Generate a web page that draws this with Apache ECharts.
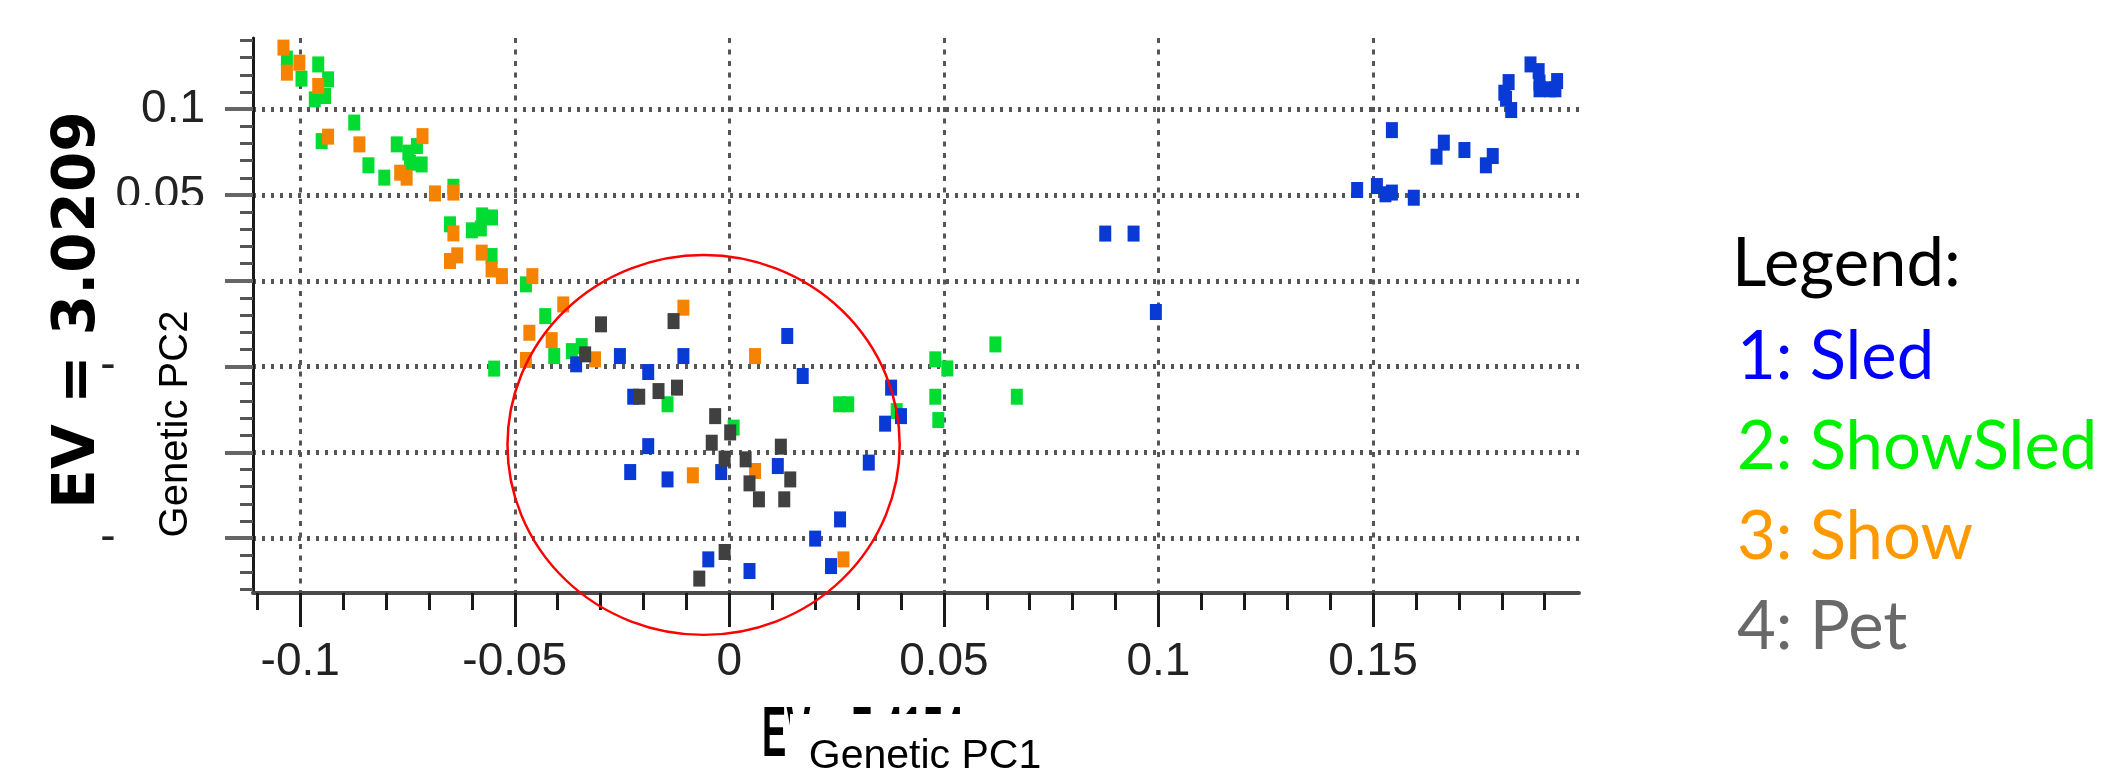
<!DOCTYPE html>
<html>
<head>
<meta charset="utf-8">
<script src="https://cdn.jsdelivr.net/npm/echarts@6.0.0/dist/echarts.min.js"></script>
<style>
  html, body { margin: 0; padding: 0; background: #fff; }
  #main { width: 2102px; height: 776px; }
</style>
</head>
<body>
<div id="main"></div>
<script>
// points, [PC1, PC2]
var sled = [
  [-0.0357,-0.0487],[-0.0255,-0.0439],[-0.0107,-0.0439],[-0.0189,-0.0532],[-0.0224,-0.0676],
  [0.0135,-0.0322],[0.0171,-0.0555],[0.0377,-0.0623],[0.0363,-0.0833],[0.0400,-0.0789],
  [-0.0189,-0.0964],[-0.0231,-0.1115],[-0.0144,-0.1158],[-0.0019,-0.1115],[0.0113,-0.1080],
  [0.0325,-0.1060],[0.0258,-0.1391],[0.0200,-0.1503],[-0.0049,-0.1624],[0.0047,-0.1692],
  [0.0237,-0.1663],[0.0876,0.0275],[0.0942,0.0275],[0.0994,-0.0182],
  [0.1463,0.0529],[0.1509,0.0552],[0.1529,0.0504],[0.1544,0.0514],[0.1595,0.0484],
  [0.1544,0.0878],[0.1665,0.0805],[0.1648,0.0723],[0.1713,0.0762],[0.1779,0.0727],[0.1763,0.0673],
  [0.1816,0.1158],[0.1806,0.1096],[0.1810,0.1061],[0.1822,0.0995],
  [0.1867,0.1261],[0.1886,0.1222],[0.1888,0.1155],[0.1888,0.1116],[0.1913,0.1116],[0.1929,0.1164],[0.1925,0.1116]
];
var showSled = [
  [-0.1031,0.1295],[-0.0997,0.1178],[-0.0958,0.1261],[-0.0935,0.1174],[-0.0942,0.1077],[-0.0966,0.1057],
  [-0.0874,0.0922],[-0.0950,0.0814],[-0.0841,0.0673],[-0.0804,0.0601],[-0.0775,0.0795],[-0.0748,0.0747],
  [-0.0728,0.0785],[-0.0717,0.0678],[-0.0744,0.0688],[-0.0643,0.0548],
  [-0.0651,0.0329],[-0.0576,0.0381],[-0.0553,0.0369],[-0.0600,0.0294],[-0.0579,0.0305],
  [-0.0554,0.0144],[-0.0474,-0.0021],[-0.0429,-0.0206],[-0.0408,-0.0439],[-0.0548,-0.0512],
  [-0.0344,-0.0381],[-0.0367,-0.0410],[-0.0144,-0.0720],[0.0010,-0.0856],[0.0256,-0.0720],[0.0277,-0.0720],
  [0.0390,-0.0760],[0.0620,-0.0371],[0.0480,-0.0458],[0.0508,-0.0511],[0.0480,-0.0676],[0.0487,-0.0812],[0.0670,-0.0676]
];
var show = [
  [-0.1039,0.1359],[-0.1002,0.1271],[-0.1031,0.1213],[-0.0958,0.1135],[-0.0935,0.0840],[-0.0862,0.0795],
  [-0.0715,0.0843],[-0.0767,0.0630],[-0.0752,0.0601],[-0.0686,0.0509],[-0.0643,0.0514],
  [-0.0643,0.0276],[-0.0651,0.0115],[-0.0634,0.0148],[-0.0577,0.0164],[-0.0554,0.0066],[-0.0530,0.0027],
  [-0.0459,0.0027],[-0.0387,-0.0138],[-0.0466,-0.0303],[-0.0414,-0.0346],[-0.0474,-0.0462],[-0.0313,-0.0458],
  [-0.0107,-0.0157],[0.0060,-0.0439],[-0.0085,-0.1134],[0.0060,-0.1109],[0.0266,-0.1624]
];
var pet = [
  [-0.0299,-0.0254],[-0.0130,-0.0235],[-0.0336,-0.0429],[-0.0210,-0.0676],[-0.0165,-0.0643],[-0.0122,-0.0623],
  [-0.0033,-0.0789],[-0.0041,-0.0944],[-0.0011,-0.1037],[0.0038,-0.1041],[0.0047,-0.1181],[0.0069,-0.1274],
  [0.0120,-0.0967],[0.0142,-0.1158],[0.0128,-0.1274],[-0.0011,-0.1581],[-0.0070,-0.1736],[0.0002,-0.0884]
];

var groupNames = ['1: Sled', '2: ShowSled', '3: Show', '4: Pet'];
var textColors = ['#0000ff', '#00f000', '#ff9900', '#696969'];
var markColors = ['#0a3ad6', '#00dc32', '#f58200', '#404040'];

var xMajorTicks = [-0.1, -0.05, 0, 0.05, 0.1, 0.15];
var xMinorTicks = [-0.11,-0.1,-0.09,-0.08,-0.07,-0.06,-0.05,-0.04,-0.03,-0.02,-0.01,0,
  0.01,0.02,0.03,0.04,0.05,0.06,0.07,0.08,0.09,0.1,0.11,0.12,0.13,0.14,0.15,0.16,0.17,0.18,0.19];
var yMajorTicks = [0.1, 0.05, 0, -0.05, -0.1, -0.15];
var yMinorTicks = [0.14,0.13,0.12,0.11,0.1,0.09,0.08,0.07,0.06,0.05,0.04,0.03,0.02,0.01,0,
  -0.01,-0.02,-0.03,-0.04,-0.05,-0.06,-0.07,-0.08,-0.09,-0.1,-0.11,-0.12,-0.13,-0.14,-0.15,-0.16,-0.17,-0.18];

// red ring drawn round the mixed group, centre and radii in data units
var ringCenter = [-0.006, -0.0957];
var ringRadius = [0.0457, 0.1107];

var xRange = [-0.111, 0.198];
var yRange = [-0.182, 0.1415];
var tickFont = 'Liberation Sans';

var chart = echarts.init(document.getElementById('main'), null, { renderer: 'canvas' });

function scatter(name, data, color) {
  return {
    name: name,
    type: 'scatter',
    data: data,
    symbol: 'rect',
    symbolSize: [12, 16],
    itemStyle: { color: color, opacity: 1 },
    emphasis: { disabled: true },
    silent: true
  };
}

var option = {
  backgroundColor: '#fff',
  animation: false,
  grid: { left: 253, top: 38, width: 1326, height: 555, outerBoundsMode: 'none' },
  legend: {
    orient: 'vertical',
    left: 1727,
    top: 307,
    itemGap: 0,
    itemWidth: 0,
    itemHeight: 0,
    icon: 'none',
    selectedMode: false,
    textStyle: { fontFamily: 'Lato', fontSize: 67, lineHeight: 90 },
    data: groupNames.map(function (n, i) {
      return { name: n, textStyle: { color: textColors[i] } };
    })
  },
  xAxis: [
    {
      type: 'value', min: xRange[0], max: xRange[1],
      axisLine: { show: true, onZero: false, lineStyle: { color: '#4a4a4a', width: 4 } },
      axisTick: { show: true, customValues: xMinorTicks, length: 17, lineStyle: { color: '#1a1a1a', width: 3 } },
      axisLabel: { show: false },
      splitLine: { show: false }
    },
    {
      type: 'value', min: xRange[0], max: xRange[1], position: 'bottom',
      axisLine: { show: false, onZero: false },
      axisTick: { show: true, customValues: xMajorTicks, length: 34, lineStyle: { color: '#1a1a1a', width: 3 } },
      axisLabel: {
        show: true, customValues: xMajorTicks, margin: 46,
        fontFamily: tickFont, fontSize: 46, color: '#222',
        formatter: function (v) { return String(v); }
      },
      splitLine: { show: true, lineStyle: { color: '#555', width: 3, type: [5, 6.5] } }
    }
  ],
  yAxis: [
    {
      type: 'value', min: yRange[0], max: yRange[1],
      axisLine: { show: true, onZero: false, lineStyle: { color: '#1a1a1a', width: 3 } },
      axisTick: { show: true, customValues: yMinorTicks, length: 13, lineStyle: { color: '#555', width: 3 } },
      axisLabel: { show: false },
      splitLine: { show: false }
    },
    {
      type: 'value', min: yRange[0], max: yRange[1], position: 'left',
      axisLine: { show: false, onZero: false },
      axisTick: { show: true, customValues: yMajorTicks, length: 28, lineStyle: { color: '#666', width: 4 } },
      axisLabel: {
        show: true, customValues: yMajorTicks, margin: 48,
        fontFamily: tickFont, fontSize: 46, color: '#222',
        formatter: function (v) { return String(v); }
      },
      splitLine: { show: true, lineStyle: { color: '#555', width: 5, type: [3, 6] } }
    }
  ],
  series: [
    scatter(groupNames[1], showSled, markColors[1]),
    scatter(groupNames[2], show, markColors[2]),
    scatter(groupNames[0], sled, markColors[0]),
    scatter(groupNames[3], pet, markColors[3]),
    {
      type: 'custom',
      name: 'ring',
      data: [ringCenter],
      clip: false,
      silent: true,
      z: 10,
      renderItem: function (params, api) {
        var c = api.coord([api.value(0), api.value(1)]);
        var s = api.size(ringRadius);
        return {
          type: 'circle',
          x: c[0], y: c[1],
          scaleY: s[1] / s[0],
          shape: { cx: 0, cy: 0, r: s[0] },
          style: { fill: 'none', stroke: '#ff0000', lineWidth: 2.5 }
        };
      }
    }
  ],
  graphic: [
    // slide overlays pasted over the original axis titles
    { type: 'rect', z: 100, shape: { x: 116, y: 205, width: 106, height: 346 }, style: { fill: '#fff' } },
    { type: 'text', z: 101, x: 176, y: 424, rotation: Math.PI / 2,
      style: { text: 'Genetic PC2', fontFamily: 'Liberation Sans', fontSize: 40, fill: '#000', align: 'center', verticalAlign: 'middle' } },
    { type: 'text', z: 101, x: 79, y: 310, rotation: Math.PI / 2,
      style: { text: 'EV = 3.0209', fontFamily: 'DejaVu Sans', fontWeight: 'bold', fontSize: 58, fill: '#000', align: 'center', verticalAlign: 'middle' } },
    { type: 'text', z: 101, x: 762, y: 737, scaleX: 0.52,
      style: { text: 'EV = 7.4154', fontFamily: 'Liberation Sans', fontWeight: 'bold', fontSize: 70, fill: '#000', align: 'left', verticalAlign: 'middle' } },
    { type: 'rect', z: 102, shape: { x: 790, y: 714, width: 290, height: 62 }, style: { fill: '#fff' } },
    { type: 'text', z: 103, x: 925, y: 757,
      style: { text: 'Genetic PC1', fontFamily: 'Liberation Sans', fontSize: 41, fill: '#000', align: 'center', verticalAlign: 'middle' } },
    { type: 'text', z: 101, x: 1732, y: 264,
      style: { text: 'Legend:', fontFamily: 'Lato', fontSize: 67, fill: '#000', align: 'left', verticalAlign: 'middle' } }
  ]
};

chart.setOption(option);
</script>
</body>
</html>
